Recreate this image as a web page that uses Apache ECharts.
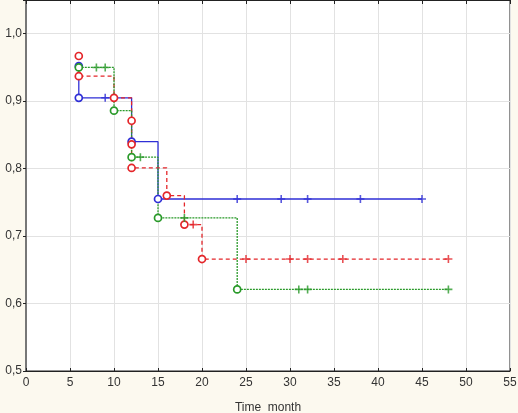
<!DOCTYPE html>
<html>
<head>
<meta charset="utf-8">
<script src="https://cdn.jsdelivr.net/npm/echarts@6/dist/echarts.min.js"></script>
<style>
html, body { margin: 0; padding: 0; background: #fcf9ef; }
#chart { width: 518px; height: 413px; }
</style>
</head>
<body>
<div id="chart"></div>
<script>
// Kaplan-Meier steps (time, survival) per group
var blueTime = [6, 6, 12, 15, 45];
var blueSurv = [0.952, 0.905, 0.840, 0.755, 0.755];
var blueCensor = [9, 24, 29, 32, 38, 45];

var redTime = [6, 6, 10, 12, 12, 12, 16, 18, 20, 48];
var redSurv = [0.967, 0.937, 0.905, 0.871, 0.836, 0.801, 0.760, 0.717, 0.666, 0.666];
var redCensor = [19, 25, 30, 32, 36, 48];

var greenTime = [6, 10, 12, 15, 24, 48];
var greenSurv = [0.950, 0.886, 0.817, 0.727, 0.621, 0.621];
var greenCensor = [8, 9, 13, 18, 31, 32, 48];

var plus = 'path://M4,0H6V4H10V6H6V10H4V6H0V4H4Z';

function pairs(t, s) {
    var out = [];
    for (var i = 0; i < t.length; i++) out.push([t[i], s[i]]);
    return out;
}
// survival value of the curve at a censored time
function survAt(t, s, x) {
    var v = s[0];
    for (var i = 0; i < t.length; i++) {
        if (t[i] <= x) v = s[i];
    }
    return v;
}
function censorPts(t, s, c) {
    return c.map(function (x) { return [x, survAt(t, s, x)]; });
}
function events(t, s) {
    // every step point except the final end-of-followup point
    return pairs(t, s).slice(0, t.length - 1);
}

function group(name, color, type, t, s, c) {
    return [
        {
            name: name, type: 'line', step: 'end', data: pairs(t, s),
            showSymbol: false, symbol: 'none',
            lineStyle: { color: color, width: 1.3, type: type },
            z: 2, animation: false
        },
        {
            name: name + ' events', type: 'scatter', data: events(t, s),
            symbol: 'circle', symbolSize: 7,
            itemStyle: { color: '#ffffff', borderColor: color, borderWidth: 1.7, opacity: 1 },
            z: 3, animation: false
        },
        {
            name: name + ' censored', type: 'scatter', data: censorPts(t, s, c),
            symbol: plus, symbolSize: 8,
            itemStyle: { color: color },
            z: 3, animation: false
        }
    ];
}

var chart = echarts.init(document.getElementById('chart'));
var lbl = { color: '#333', fontFamily: 'Liberation Sans, Arial, sans-serif', fontSize: 12 };

chart.setOption({
    backgroundColor: '#fcf9ef',
    animation: false,
    grid: {
        left: 26, right: 8, top: 0, bottom: 42,
        outerBoundsMode: 'none', containLabel: false,
        show: true, backgroundColor: '#ffffff', borderColor: '#222', borderWidth: 1
    },
    xAxis: [
        {
            type: 'value', min: 0, max: 55, interval: 5,
            name: 'Time  month', nameLocation: 'middle', nameGap: 31,
            nameTextStyle: lbl,
            axisLine: { show: true, lineStyle: { color: '#222', width: 1 } },
            axisTick: { show: true, inside: true, length: 3, lineStyle: { color: '#222' } },
            axisLabel: Object.assign({ margin: 6 }, lbl),
            splitLine: { show: true, lineStyle: { color: '#e2e2e2', width: 1 } }
        },
        {
            type: 'value', min: 0, max: 55, interval: 5, position: 'top',
            axisLine: { show: true, lineStyle: { color: '#222', width: 1 } },
            axisTick: { show: true, inside: true, length: 4, lineStyle: { color: '#222' } },
            axisLabel: { show: false },
            splitLine: { show: false }
        }
    ],
    yAxis: [
        {
            type: 'value', min: 0.5, max: 1.05, interval: 0.1,
            axisLine: { show: true, lineStyle: { color: '#222', width: 1 } },
            axisTick: { show: false },
            axisLabel: Object.assign({
                margin: 4, showMaxLabel: false,
                formatter: function (v) { return v.toFixed(1).replace('.', ','); }
            }, lbl),
            splitLine: { show: true, lineStyle: { color: '#e2e2e2', width: 1 } }
        },
        {
            type: 'value', min: 0.5, max: 1.05, interval: 0.1, position: 'right',
            axisLine: { show: true, lineStyle: { color: '#777', width: 2 } },
            axisTick: { show: true, inside: true, length: 3, lineStyle: { color: '#222' } },
            axisLabel: { show: false },
            splitLine: { show: false }
        }
    ],
    series: [].concat(
        group('A', '#2f2fd6', 'solid', blueTime, blueSurv, blueCensor),
        group('B', '#e4262a', [4, 3], redTime, redSurv, redCensor),
        group('C', '#2a9a2a', [2, 1], greenTime, greenSurv, greenCensor)
    )
});
</script>
</body>
</html>
